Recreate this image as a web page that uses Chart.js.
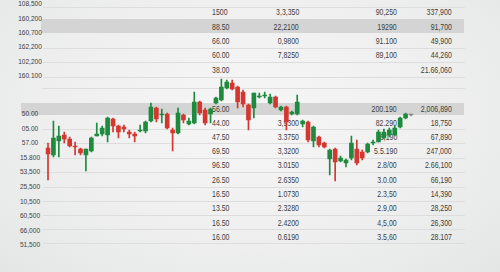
<!DOCTYPE html>
<html>
<head>
<meta charset="utf-8">
<script src="https://cdn.jsdelivr.net/npm/chart.js@4.4.1/dist/chart.umd.min.js"></script>
<style>
html, body { margin: 0; padding: 0; }
body {
    width: 500px; height: 272px; overflow: hidden; position: relative;
    background: radial-gradient(ellipse at 50% 42%, #f6f6f6 0%, #efefef 55%, #e4e6e6 100%);
    font-family: "Liberation Sans", Arial, sans-serif;
    font-size: 8.5px; color: #3e3e3e;
}
#sheet { position: absolute; left: 0; top: 0; width: 500px; height: 272px; }
.line { position: absolute; height: 1px; background: #dcdddc; }
.band { position: absolute; background: #d3d4d3; }
.t { position: absolute; white-space: nowrap; line-height: 10px; height: 10px; }
.l { transform: scaleX(0.82); transform-origin: left center; }
.r { transform: scaleX(0.82); transform-origin: right center; text-align: right; }
.c { transform: scaleX(0.82); transform-origin: center center; text-align: center; }
#chart { position: absolute; left: 0; top: 0; }
</style>
</head>
<body>
<div id="sheet"></div>
<canvas id="chart" width="500" height="272"></canvas>
<script>
// Candles (open, high, low, close)
const open  = [152,145,159,165,161,154,151,145,149,164,166,165,181,174,173,168,166,169,169,179,192,185,186,170,167,185,176,177,198,190,186,197,200,212,217,213,208,195,192,203,204,197,203,190,193,186,186,176,178,159,163,157,141,151,139,137,142,151,148,148,157,158,162,165,165,173,182,185];
const high  = [157,179,174,168,163,158,152,151,163,177,174,183,182,175,175,170,168,175,179,197,193,191,187,172,192,186,182,208,199,192,192,203,221,220,220,214,210,196,207,207,208,206,204,194,194,189,205,180,179,174,164,158,151,152,144,141,164,160,150,157,160,170,171,172,174,183,187,186];
const low   = [120,143,143,157,153,145,145,129,148,164,164,158,168,162,168,162,158,168,167,178,178,177,171,149,166,177,175,176,185,175,177,196,199,211,210,192,193,170,182,202,202,196,192,189,170,185,185,173,158,153,153,152,125,119,138,133,140,135,140,147,155,158,161,163,164,172,181,184];
const close = [146,162,164,161,154,153,147,151,162,166,172,182,174,168,171,166,164,170,178,193,181,186,172,167,187,180,179,198,187,177,191,202,213,218,211,198,196,180,207,204,205,203,193,193,178,188,198,179,160,173,155,153,150,138,142,140,157,137,142,156,158,168,168,170,172,182,186,185];

// Table text
const sideLabels = ['108,500','160,200','160,700','162,200','102,200','160.100','50.00','05.00','57.00','15.800','53,500','25,500','10,500','60,500','66,000','51,500'];
const sideY = [4,18.7,33,47,61.7,75.7,114,128.7,143,157.7,172,187,201.7,216,231,245];
const rowY = [12,26.7,41,55,69.7,108.7,122.7,137,151,165,179.7,194,208,222.7,237];
const colA = ['1500','88.50','66.00','60.00','38.00','56.00','44.00','47.50','69.50','96.50','26.50','16.50','13.50','16.50','16.00'];
const colB = ['3,3,350','22,2100','0,9800','7,8250','','','3,9300','3.3750','3,3200','3.0150','2.6350','1.0730','2.3280','2.4200','0.6190'];
const colC = ['90,250','19290','91.100','89,100','','200.190','82.290','6,190','5.5.190','2.8/00','3.0.00','2.3,50','2.9,00','4,5,00','3.5,60'];
const colD = ['337,900','91,700','49,900','44,260','21.66,060','2,006,890','18,750','67,890','247,000','2.66,100','66,190','14,390','28,250','26,300','28.107'];
const lineY = [6.7,47.7,62.3,76.7,88,129,143.3,157.7,172,186.7,201,215,229,243];

// Build the sheet behind the chart
function buildSheet() {
    const sheet = document.getElementById('sheet');
    const add = (cls, css, text) => {
        const el = document.createElement('div');
        el.className = cls;
        el.style.cssText = css;
        if (text) el.textContent = text;
        sheet.appendChild(el);
    };

    add('band', 'left:41px;width:423px;top:19px;height:14px;');
    add('band', 'left:21px;width:443px;top:103px;height:12px;');
    lineY.forEach(y => add('line', `left:43px;width:422px;top:${y}px;`));

    sideLabels.forEach((s, i) => add('t c', `left:0px;width:60px;top:${sideY[i] - 5}px;font-size:8px;`, s));

    rowY.forEach((y, i) => {
        add('t l', `left:212px;top:${y - 5}px;`, colA[i]);
        add('t r', `right:${500 - 299}px;top:${y - 5}px;`, colB[i]);
        add('t r', `right:${500 - 397}px;top:${y - 5}px;`, colC[i]);
        add('t r', `right:${500 - 452}px;top:${y - 5}px;`, colD[i]);
    });
}

// Candlestick chart from floating bars
function createChart() {
    const labels = open.map((_, i) => i + 1);
    const colors = open.map((o, i) => close[i] > o ? '#1d8a3e' : close[i] < o ? '#d3372f' : '#8a8a8a');

    new Chart(document.getElementById('chart').getContext('2d'), {
        type: 'bar',
        data: {
            labels: labels,
            datasets: [
                {
                    data: labels.map((_, i) => [low[i], high[i]]),
                    backgroundColor: colors,
                    barThickness: 1,
                    grouped: false,
                    order: 2
                },
                {
                    data: labels.map((_, i) => [open[i], close[i]]),
                    backgroundColor: colors,
                    barThickness: 4,
                    minBarLength: 1,
                    grouped: false,
                    order: 1
                }
            ]
        },
        options: {
            responsive: false,
            animation: false,
            layout: { padding: { left: 45.3, right: 86.3, top: 0, bottom: 0 } },
            plugins: {
                legend: { display: false },
                tooltip: { enabled: false }
            },
            scales: {
                x: { display: false },
                y: { display: false, min: 28, max: 300 }
            }
        }
    });
}

buildSheet();
createChart();
</script>
</body>
</html>
